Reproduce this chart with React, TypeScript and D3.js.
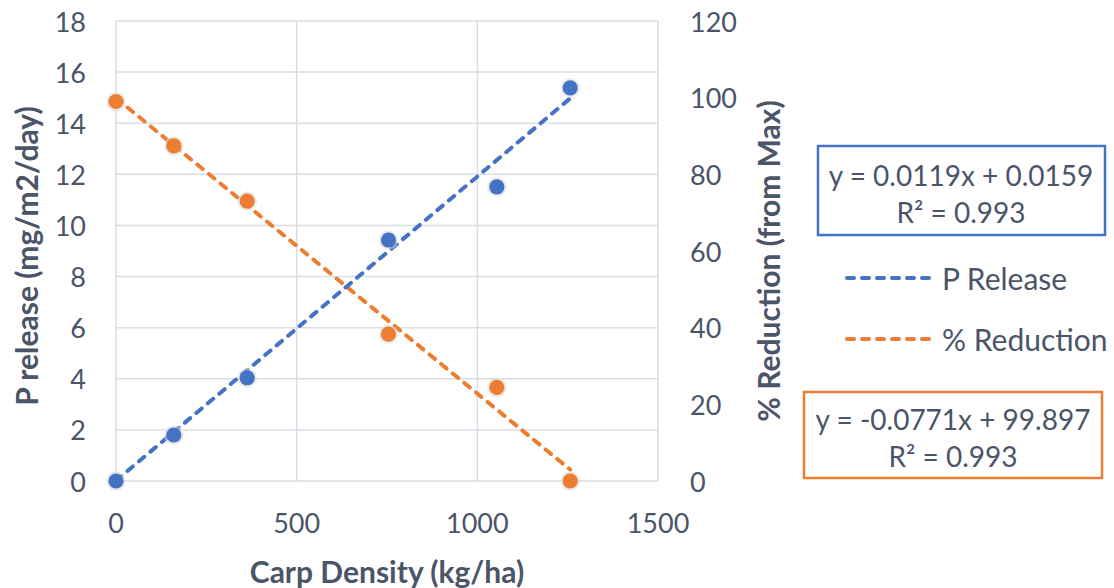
import React from "react";
import * as d3 from "d3";

const carpDensity = [0, 160, 363, 754, 1054, 1257];
const pRelease = [0, 1.8, 4.04, 9.43, 11.51, 15.38];
const pctReduction = [99.0, 87.4, 73.0, 38.3, 24.4, 0];
const xTicks = [0, 500, 1000, 1500];
const leftTicks = [0, 2, 4, 6, 8, 10, 12, 14, 16, 18];
const rightTicks = [0, 20, 40, 60, 80, 100, 120];
const pFit = { slope: 0.0119, intercept: 0.0159, label: "y = 0.0119x + 0.0159", r2: "R² = 0.993" };
const rFit = { slope: -0.0771, intercept: 99.897, label: "y = -0.0771x + 99.897", r2: "R² = 0.993" };
const seriesNames = ["P Release", "% Reduction"];

const BLUE = "#4472C4";
const ORANGE = "#ED7D31";
const TXT = "#4A5568";
const GRID = "#D9DEE6";
const FONT = "Lato, 'Open Sans', sans-serif";

export default function App() {
  const W = 1114, H = 588;
  const x = d3.scaleLinear().domain([0, 1500]).range([116, 658]);
  const yL = d3.scaleLinear().domain([0, 18]).range([481, 21]);
  const yR = d3.scaleLinear().domain([0, 120]).range([481, 21]);
  const xMin = d3.min(carpDensity)!, xMax = d3.max(carpDensity)!;
  const line = d3.line<[number, number]>().x(d => d[0]).y(d => d[1]);
  const pLine = line([xMin, xMax].map(v => [x(v), yL(pFit.slope * v + pFit.intercept)] as [number, number]));
  const rLine = line([xMin, xMax].map(v => [x(v), yR(rFit.slope * v + rFit.intercept)] as [number, number]));
  const dash = { strokeDasharray: "7 8", strokeLinecap: "round" as const, strokeWidth: 4, fill: "none" };

  const marker = (cx: number, cy: number, color: string, key: string) => (
    <g key={key}>
      <circle cx={cx} cy={cy} r={9.8} fill="#d8d8d8" opacity={0.55} />
      <circle cx={cx} cy={cy} r={7.6} fill={color} />
    </g>
  );

  return (
    <svg width={W} height={H} style={{ position: "absolute", left: 0, top: 0, background: "#fff" }} fontFamily={FONT}>
      <rect width={W} height={H} fill="#fff" />
      {leftTicks.map(t => (
        <line key={"h" + t} x1={x(0)} x2={x(1500)} y1={yL(t)} y2={yL(t)} stroke={GRID} strokeWidth={1.5} />
      ))}
      {xTicks.map(t => (
        <line key={"v" + t} x1={x(t)} x2={x(t)} y1={yL(0)} y2={yL(18)} stroke={GRID} strokeWidth={1.5} />
      ))}
      <path d={rLine!} stroke={ORANGE} {...dash} />
      <path d={pLine!} stroke={BLUE} {...dash} />
      {carpDensity.map((v, i) => marker(x(v), yR(pctReduction[i]), ORANGE, "o" + i))}
      {carpDensity.map((v, i) => marker(x(v), yL(pRelease[i]), BLUE, "b" + i))}
      <g fill={TXT} fontSize={27}>
        {leftTicks.map(t => (
          <text key={"l" + t} x={86} y={yL(t)} textAnchor="end" dominantBaseline="central">{t}</text>
        ))}
        {rightTicks.map(t => (
          <text key={"r" + t} x={690} y={yR(t)} textAnchor="start" dominantBaseline="central">{t}</text>
        ))}
        {xTicks.map(t => (
          <text key={"x" + t} x={x(t)} y={522} textAnchor="middle" dominantBaseline="central">{t}</text>
        ))}
      </g>
      <g fill={TXT} fontSize={30} fontWeight="bold">
        <text x={387} y={571} textAnchor="middle" dominantBaseline="central">Carp Density (kg/ha)</text>
        <text transform={`translate(26,256) rotate(-90)`} textAnchor="middle" dominantBaseline="central">P release (mg/m2/day)</text>
        <text transform={`translate(768,261) rotate(-90)`} textAnchor="middle" dominantBaseline="central">% Reduction (from Max)</text>
      </g>
      <rect x={818} y={146} width={287} height={89} fill="#fff" stroke={BLUE} strokeWidth={2.5} />
      <g fill={TXT} fontSize={28} textAnchor="middle">
        <text x={961} y={175} dominantBaseline="central">{pFit.label}</text>
        <text x={961} y={212} dominantBaseline="central">{pFit.r2}</text>
      </g>
      <line x1={847} x2={936} y1={278} y2={278} stroke={BLUE} {...dash} />
      <text x={942} y={278} fill={TXT} fontSize={30} dominantBaseline="central">{seriesNames[0]}</text>
      <line x1={847} x2={936} y1={339} y2={339} stroke={ORANGE} {...dash} />
      <text x={942} y={339} fill={TXT} fontSize={30} dominantBaseline="central">{seriesNames[1]}</text>
      <rect x={804} y={392} width={298} height={86} fill="#fff" stroke={ORANGE} strokeWidth={2.5} />
      <g fill={TXT} fontSize={28} textAnchor="middle">
        <text x={953} y={419} dominantBaseline="central">{rFit.label}</text>
        <text x={953} y={456} dominantBaseline="central">{rFit.r2}</text>
      </g>
    </svg>
  );
}
